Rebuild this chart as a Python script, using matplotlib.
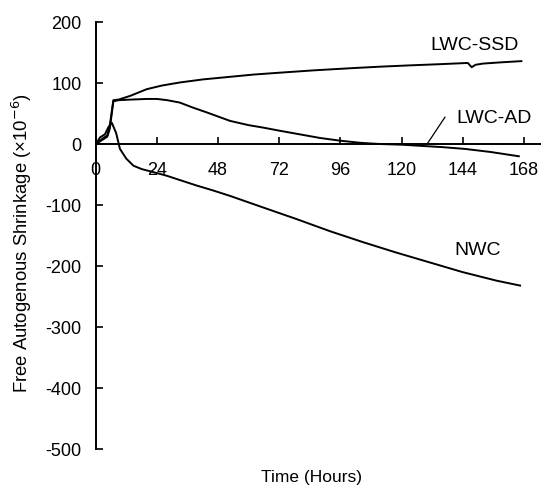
import matplotlib.pyplot as plt
import numpy as np

plt.rcParams['font.family'] = ['Liberation Sans', 'DejaVu Sans']
plt.rcParams['axes.unicode_minus'] = False

# donnees (heures, x10^-6)
t_ssd = [0, 1.5, 3, 4.5, 5.5, 6.9, 9, 13.5, 20, 26, 33, 42, 52, 62, 72, 86, 101, 112, 123, 135, 146, 147.5, 149, 152, 159, 167]
v_ssd = [0, 5, 10, 14, 30, 72, 73, 79, 90, 96, 101, 106, 110, 114, 117, 121, 124.6, 127, 129, 131, 133, 126, 130, 132, 134, 136]

t_ad = [0, 1.5, 3, 4.5, 5.5, 6.9, 9, 14, 20, 24, 28, 33, 38, 43.5, 52.7, 60, 65.7, 72, 80, 88, 96, 104, 112, 120, 128, 136, 145, 155, 166]
v_ad = [0, 4, 8, 12, 25, 70, 72, 73, 74, 74, 72, 68, 60, 52, 38, 31, 27, 22, 16, 10, 5.5, 2, 0, -1, -3, -5, -8, -13, -20]

t_nwc = [0, 1.7, 3.6, 5, 6.3, 8, 9.5, 12, 14.8, 18, 22.6, 27.9, 33, 39.6, 46, 52.7, 65.7, 78.8, 92, 105, 118, 131, 144, 157.3, 166.5]
v_nwc = [0, 11, 16, 28, 35, 18, -8, -24, -35.5, -41, -46, -52, -59, -68, -76, -85, -104, -123, -143, -161, -178, -194, -210, -224, -232]

xticks = [0, 24, 48, 72, 96, 120, 144, 168]
yticks = [200, 100, 0, -100, -200, -300, -400, -500]

fig = plt.figure(figsize=(5.41, 4.91), dpi=100)
ax = fig.add_axes([0.177, 0.0855, 0.823, 0.8695])

ax.plot(t_ssd, v_ssd, color='black', lw=1.4)
ax.plot(t_ad, v_ad, color='black', lw=1.4)
ax.plot(t_nwc, v_nwc, color='black', lw=1.4)

# etiquettes des courbes
ax.text(148.8, 161, 'LWC-SSD', fontsize=14, ha='center', va='center')
ax.text(156.3, 42.6, 'LWC-AD', fontsize=14, ha='center', va='center')
ax.plot([137, 130], [44, 0], color='black', lw=0.9)
ax.text(150, -175, 'NWC', fontsize=14, ha='center', va='center')

ax.set_xlim(0, 174.7)
ax.set_ylim(-500, 200)
ax.spines['bottom'].set_position(('data', 0))
ax.spines['top'].set_visible(False)
ax.spines['right'].set_visible(False)
ax.spines['left'].set_linewidth(1.4)
ax.spines['bottom'].set_linewidth(1.4)

ax.set_xticks(xticks)
ax.set_yticks(yticks)
ax.tick_params(axis='x', direction='in', length=5, width=1.2, pad=13, labelsize=13)
ax.tick_params(axis='y', direction='in', length=5, width=1.2, pad=10, labelsize=13)

fig.text(0.575, 0.027, 'Time (Hours)', fontsize=12.5, ha='center', va='center')
fig.text(0.04, 0.505, 'Free Autogenous Shrinkage (\u00d710$^{-6}$)', fontsize=13.3,
         rotation=90, ha='center', va='center')

plt.savefig('out.png', dpi=100)
